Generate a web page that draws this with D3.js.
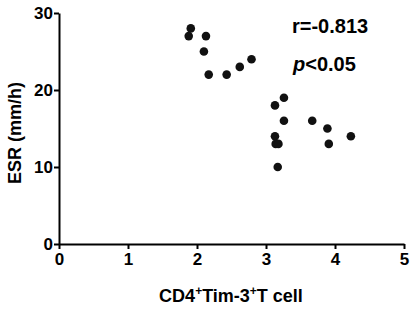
<!DOCTYPE html>
<html lang="en">
<head>
<meta charset="UTF-8">
<title>ESR vs CD4+Tim-3+T cell</title>
<script src="https://d3js.org/d3.v7.min.js"></script>
<style>
  body { margin: 0; background: #fff; }
  svg { font-family: "Liberation Sans", Arial, sans-serif; font-weight: bold; }
</style>
</head>
<body>
<svg id="chart"></svg>
<script>
// data
const cellValues = [1.88, 1.91, 2.13, 2.10, 2.17, 2.43, 2.62, 2.79, 3.13, 3.26, 3.26, 3.13, 3.14, 3.18, 3.17, 3.67, 3.89, 3.91, 4.23];
const esrValues  = [27, 28, 27, 25, 22, 22, 23, 24, 18, 19, 16, 14, 13, 13, 10, 16, 15, 13, 14];
const xTicks = [0, 1, 2, 3, 4, 5];
const yTicks = [0, 10, 20, 30];

const width = 413, height = 309;
const margin = { top: 13, right: 9, bottom: 65, left: 59 };
const chartWidth = width - margin.left - margin.right;
const chartHeight = height - margin.top - margin.bottom;

const svg = d3.select("#chart").attr("width", width).attr("height", height);

const x = d3.scaleLinear().domain([0, 5]).range([0, chartWidth]);
const y = d3.scaleLinear().domain([0, 30]).range([chartHeight, 0]);

const g = svg.append("g").attr("transform", `translate(${margin.left},${margin.top})`);

const xAxis = g.append("g")
    .attr("transform", `translate(0,${chartHeight})`)
    .call(d3.axisBottom(x).tickValues(xTicks).tickFormat(d3.format("d")).tickSize(5).tickSizeOuter(0));
const yAxis = g.append("g")
    .call(d3.axisLeft(y).tickValues(yTicks).tickFormat(d3.format("d")).tickSize(5).tickSizeOuter(0));

[xAxis, yAxis].forEach(a => {
    a.select(".domain").attr("stroke", "#000").attr("stroke-width", 2);
    a.selectAll(".tick line").attr("stroke", "#000").attr("stroke-width", 2);
    a.selectAll("text").attr("fill", "#000").attr("font-size", 17).attr("font-weight", "bold")
        .attr("font-family", "Liberation Sans, Arial, sans-serif");
});
xAxis.selectAll("text").attr("y", 8).attr("dy", "0.75em");
yAxis.selectAll("text").attr("x", -6);

// points
g.selectAll("circle")
    .data(cellValues.map((v, i) => ({ x: v, y: esrValues[i] })))
    .enter()
    .append("circle")
    .attr("cx", d => x(d.x))
    .attr("cy", d => y(d.y))
    .attr("r", 4.3)
    .attr("fill", "#111");

// axis titles
svg.append("text")
    .attr("transform", `translate(21,133) rotate(-90)`)
    .attr("text-anchor", "middle")
    .attr("font-size", 18)
    .text("ESR (mm/h)");

const xt = svg.append("text")
    .attr("x", 231)
    .attr("y", 302)
    .attr("text-anchor", "middle")
    .attr("font-size", 18);
xt.append("tspan").text("CD4");
xt.append("tspan").attr("font-size", 12).attr("dy", -7).text("+");
xt.append("tspan").attr("dy", 7).text("Tim-3");
xt.append("tspan").attr("font-size", 12).attr("dy", -7).text("+");
xt.append("tspan").attr("dy", 7).text("T cell");

// statistics
svg.append("text").attr("x", 292).attr("y", 33).attr("font-size", 20).text("r=-0.813");
const pt = svg.append("text").attr("x", 293).attr("y", 71).attr("font-size", 20);
pt.append("tspan").attr("font-style", "italic").text("p");
pt.append("tspan").text("<0.05");
</script>
</body>
</html>
